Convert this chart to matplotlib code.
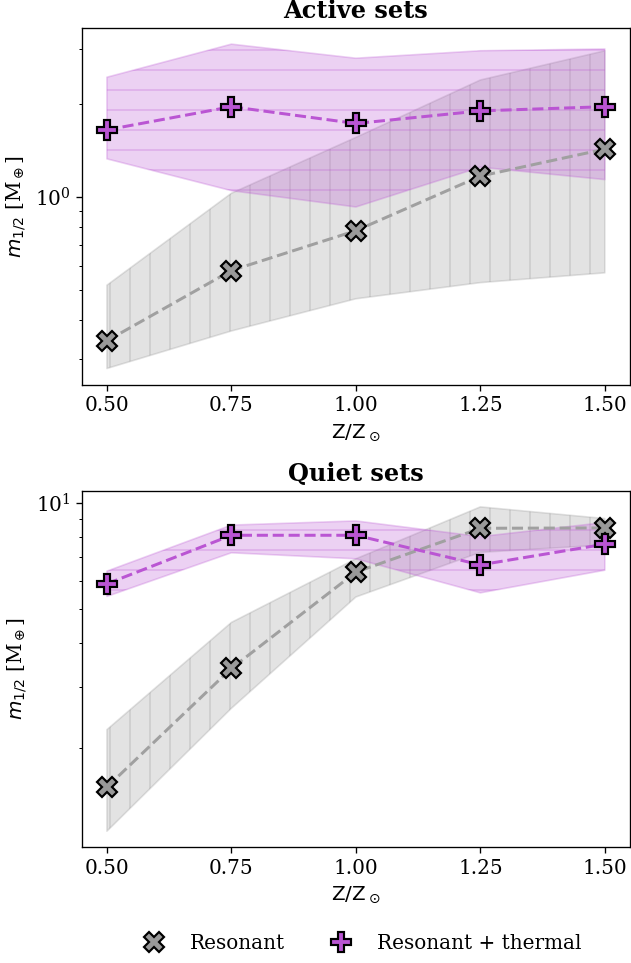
import matplotlib
matplotlib.use("Agg")
import matplotlib.pyplot as plt
from matplotlib.lines import Line2D
from matplotlib.ticker import NullFormatter

plt.rcParams['font.family'] = 'serif'
plt.rcParams['font.serif'] = ['DejaVu Serif']
plt.rcParams['font.size'] = 12

#%% DATA
metallicity = [0.50, 0.75, 1.00, 1.25, 1.50]  # Z/Z_sun

# Active sets
active_res = [0.344, 0.58, 0.78, 1.17, 1.43]
active_res_lo = [0.28, 0.37, 0.47, 0.53, 0.57]
active_res_hi = [0.52, 1.03, 1.56, 2.39, 2.97]

active_th = [1.65, 1.96, 1.73, 1.90, 1.96]
active_th_lo = [1.33, 1.05, 0.93, 1.25, 1.14]
active_th_hi = [2.44, 3.12, 2.81, 2.97, 3.01]

# Quiet sets
quiet_res = [1.55, 3.38, 6.36, 8.48, 8.50]
quiet_res_lo = [1.16, 2.60, 5.40, 7.24, 7.60]
quiet_res_hi = [2.26, 4.57, 6.94, 9.76, 9.04]

quiet_th = [5.89, 8.10, 8.10, 6.67, 7.64]
quiet_th_lo = [5.42, 7.22, 6.94, 5.55, 6.44]
quiet_th_hi = [6.40, 8.66, 8.90, 8.03, 8.81]

#%% STYLE
res_color = 'grey'
res_face = '#999999'
th_color = 'mediumorchid'

panels = [
    ('Active sets', active_res, active_res_lo, active_res_hi, active_th, active_th_lo, active_th_hi),
    ('Quiet sets', quiet_res, quiet_res_lo, quiet_res_hi, quiet_th, quiet_th_lo, quiet_th_hi),
]

#%% PLOT
fig, axes = plt.subplots(2, 1, figsize=(631/120, 963/120), dpi=120)
fig.subplots_adjust(left=0.130, right=0.998, top=0.971, bottom=0.120, hspace=0.297)

for ax, (title, res, res_lo, res_hi, th, th_lo, th_hi) in zip(axes, panels):
    ax.fill_between(metallicity, res_lo, res_hi, color=res_color, alpha=0.22, hatch='|', zorder=1)
    ax.fill_between(metallicity, th_lo, th_hi, color=th_color, alpha=0.27, hatch='-', zorder=1)
    ax.plot(metallicity, res, ls='--', lw=1.8, color='#a0a0a0', zorder=2)
    ax.plot(metallicity, th, ls='--', lw=1.8, color=th_color, zorder=2)
    ax.plot(metallicity, res, ls='none', marker='X', ms=12, mfc=res_face, mec='black', mew=1.3, zorder=3)
    ax.plot(metallicity, th, ls='none', marker='P', ms=12, mfc=th_color, mec='black', mew=1.3, zorder=3)
    ax.set_yscale('log')
    ax.yaxis.set_minor_formatter(NullFormatter())
    ax.set_xticks(metallicity)
    ax.set_xticklabels([f'{z:.2f}' for z in metallicity])
    ax.set_title(title, fontweight='bold', fontsize='large')
    ax.set_xlabel(r'$\mathrm{Z/Z_\odot}$')
    ax.set_ylabel(r'$m_{1/2}$ [M$_\oplus$]')

handles = [
    Line2D([], [], ls='none', marker='X', ms=12, mfc=res_face, mec='black', mew=1.3),
    Line2D([], [], ls='none', marker='P', ms=12, mfc=th_color, mec='black', mew=1.3),
]
fig.legend(handles, ['Resonant', 'Resonant + thermal'], loc='center',
           bbox_to_anchor=(0.567, 0.020), ncol=2, frameon=False, columnspacing=1.8)

fig.savefig('out.png', dpi=120)
